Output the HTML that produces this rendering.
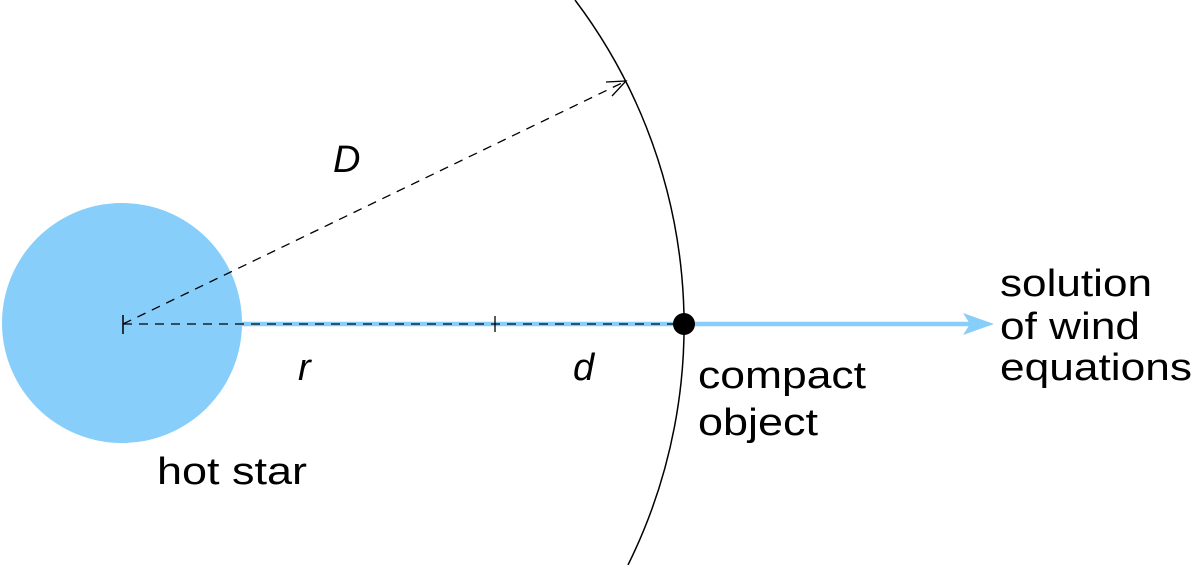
<!DOCTYPE html>
<html><head><style>body{margin:0;background:#fff}svg{display:block}text{font-family:"Liberation Sans",sans-serif;font-size:38px;fill:#000}</style></head>
<body><svg width="1200" height="565" viewBox="0 0 1200 565">
<circle cx="122" cy="323" r="120" fill="#87cefa"/>
<line x1="240" y1="324" x2="970" y2="324" stroke="#87cefa" stroke-width="4.5"/>
<path d="M963 313 L994 324 L963 335 L970 324 Z" fill="#87cefa"/>
<path d="M575 0 A540 540 0 0 1 628 565" fill="none" stroke="#000" stroke-width="1.5"/>
<line x1="123" y1="324" x2="684" y2="324" stroke="#000" stroke-width="1.3" stroke-dasharray="9,7"/>
<line x1="123" y1="324" x2="626" y2="81" stroke="#000" stroke-width="1.3" stroke-dasharray="9,7"/>
<path d="M606 82 L626 81 L612 96" fill="none" stroke="#000" stroke-width="1.3"/>
<line x1="123" y1="315" x2="123" y2="334" stroke="#000" stroke-width="1.5"/>
<line x1="495" y1="316" x2="495" y2="332" stroke="#000" stroke-width="1.3"/>
<circle cx="684" cy="324" r="11" fill="#000"/>
<text x="333" y="172" font-style="italic" textLength="34">D</text>
<text x="298" y="380" font-style="italic">r</text>
<text x="573" y="380" font-style="italic">d</text>
<text x="157" y="484" textLength="150" lengthAdjust="spacingAndGlyphs">hot star</text>
<text x="698" y="388" textLength="168" lengthAdjust="spacingAndGlyphs">compact</text>
<text x="698" y="435" textLength="120" lengthAdjust="spacingAndGlyphs">object</text>
<text x="1000" y="296" textLength="152" lengthAdjust="spacingAndGlyphs">solution</text>
<text x="1000" y="339" textLength="140" lengthAdjust="spacingAndGlyphs">of wind</text>
<text x="1000" y="380" textLength="192" lengthAdjust="spacingAndGlyphs">equations</text>
</svg></body></html>
